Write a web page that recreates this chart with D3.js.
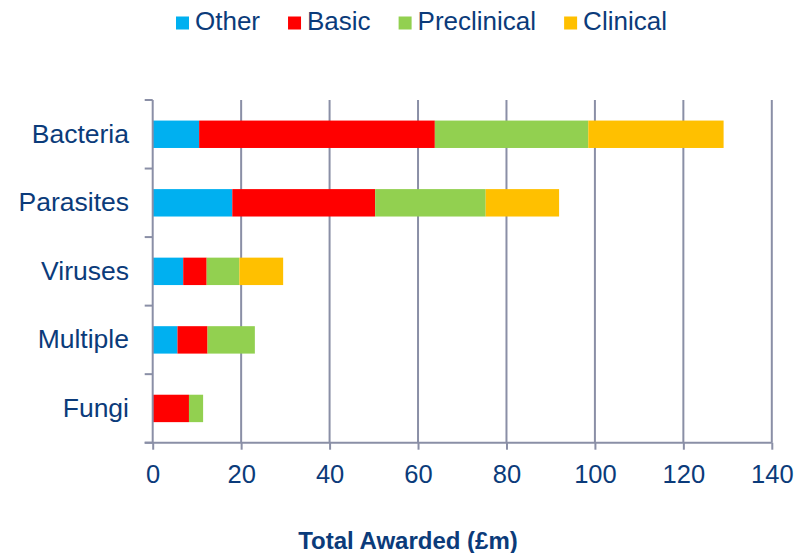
<!DOCTYPE html>
<html>
<head>
<meta charset="utf-8">
<script src="https://cdn.jsdelivr.net/npm/d3@7/dist/d3.min.js"></script>
<style>
  html, body { margin: 0; padding: 0; background: #ffffff; }
  svg { display: block; font-family: "Liberation Sans", Arial, Helvetica, sans-serif; }
</style>
</head>
<body>
<svg id="chart" width="805" height="553"></svg>
<script>
// Funding by pathogen type, split by research stage (£m)
const categories = ["Bacteria", "Parasites", "Viruses", "Multiple", "Fungi"];
const seriesNames = ["Other", "Basic", "Preclinical", "Clinical"];
const other       = [10.5, 18.0, 6.9, 5.6, 0.0];
const basic       = [53.3, 32.3, 5.3, 6.8, 8.2];
const preclinical = [34.7, 25.0, 7.4, 10.7, 3.2];
const clinical    = [30.6, 16.6, 9.9, 0.0, 0.0];
const xTicks = [0, 20, 40, 60, 80, 100, 120, 140];
const xTitle = "Total Awarded (£m)";

const colors = ["#00B0F0", "#FF0000", "#92D050", "#FFC000"];
const textColor = "#0b3b7a";
const gridColor = "#8a8fa6";

const rows = categories.map((c, i) => ({
  category: c,
  Other: other[i],
  Basic: basic[i],
  Preclinical: preclinical[i],
  Clinical: clinical[i]
}));

const stacked = d3.stack().keys(seriesNames)(rows);

const svg = d3.select("#chart");
const plotLeft = 152.7, plotRight = 771.8, plotTop = 100, plotBottom = 442.7;

const x = d3.scaleLinear().domain([0, 140]).range([plotLeft, plotRight]);
const y = d3.scaleBand().domain(categories).range([plotTop, plotBottom])
  .paddingInner(0.6).paddingOuter(0.3);

// vertical gridlines
svg.append("g")
  .selectAll("line")
  .data(xTicks.slice(1))
  .join("line")
  .attr("x1", d => x(d)).attr("x2", d => x(d))
  .attr("y1", plotTop).attr("y2", plotBottom)
  .attr("stroke", gridColor).attr("stroke-width", 2);

// stacked bars
const color = d3.scaleOrdinal().domain(seriesNames).range(colors);
svg.append("g")
  .selectAll("g")
  .data(stacked)
  .join("g")
  .attr("fill", d => color(d.key))
  .selectAll("rect")
  .data(d => d)
  .join("rect")
  .attr("x", d => x(d[0]))
  .attr("width", d => Math.max(0, x(d[1]) - x(d[0])))
  .attr("y", d => y(d.data.category))
  .attr("height", y.bandwidth());

// y axis: line with ticks at category boundaries
const boundaries = d3.range(categories.length + 1)
  .map(i => plotTop + i * (plotBottom - plotTop) / categories.length);
const yAxis = svg.append("g");
yAxis.append("line")
  .attr("x1", plotLeft).attr("x2", plotLeft).attr("y1", plotTop).attr("y2", plotBottom)
  .attr("stroke", gridColor).attr("stroke-width", 2);
yAxis.selectAll("line.tick")
  .data(boundaries)
  .join("line")
  .attr("class", "tick")
  .attr("x1", plotLeft - 8).attr("x2", plotLeft)
  .attr("y1", d => d).attr("y2", d => d)
  .attr("stroke", gridColor).attr("stroke-width", 2);
yAxis.selectAll("text")
  .data(categories)
  .join("text")
  .attr("x", 129)
  .attr("y", d => y(d) + y.bandwidth() / 2 + 8.5)
  .attr("text-anchor", "end")
  .attr("fill", textColor)
  .attr("font-size", 26.5)
  .text(d => d);

// x axis
const xAxis = svg.append("g")
  .attr("transform", `translate(0,${plotBottom})`)
  .call(d3.axisBottom(x).tickValues(xTicks).tickSize(7).tickSizeOuter(0).tickPadding(0));
xAxis.select(".domain").remove();
xAxis.append("line")
  .attr("x1", plotLeft - 8).attr("x2", plotRight)
  .attr("stroke", gridColor).attr("stroke-width", 2);
xAxis.selectAll(".tick line").attr("stroke", gridColor).attr("stroke-width", 2);
xAxis.selectAll(".tick text")
  .attr("fill", textColor)
  .attr("font-size", 25.5)
  .attr("font-family", "Liberation Sans, Arial, sans-serif")
  .attr("dy", null)
  .attr("y", 40);

// x axis title
svg.append("text")
  .attr("x", 408)
  .attr("y", 549)
  .attr("text-anchor", "middle")
  .attr("fill", textColor)
  .attr("font-size", 24)
  .attr("font-weight", "bold")
  .text(xTitle);

// legend
const legend = svg.append("g");
let lx = 176;
seriesNames.forEach((name, i) => {
  legend.append("rect")
    .attr("x", lx).attr("y", 16.5)
    .attr("width", 13).attr("height", 13)
    .attr("fill", colors[i]);
  const t = legend.append("text")
    .attr("x", lx + 19).attr("y", 29.5)
    .attr("fill", textColor)
    .attr("font-size", 26)
    .text(name);
  lx += 19 + t.node().getComputedTextLength() + 28;
});
</script>
</body>
</html>
